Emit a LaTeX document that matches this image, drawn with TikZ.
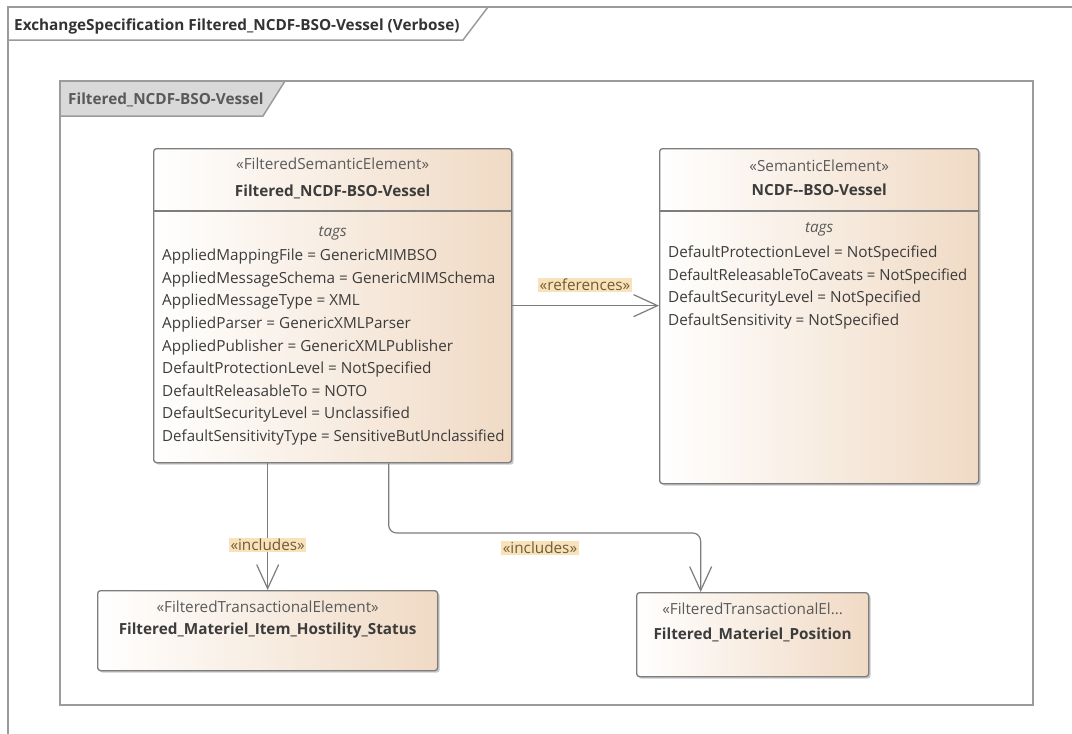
\documentclass[tikz,border=0pt]{standalone}
\usepackage{fontspec}
\setmainfont{Open Sans}
\usetikzlibrary{arrows.meta,shadows,calc}
\definecolor{peach}{RGB}{240,218,196}
\definecolor{framec}{RGB}{155,155,155}
\definecolor{boxc}{RGB}{125,125,125}
\definecolor{txt}{RGB}{60,60,60}
\definecolor{stc}{RGB}{90,90,90}
\definecolor{lblbg}{RGB}{248,226,186}
\definecolor{lbltxt}{RGB}{115,90,55}
\definecolor{tabc}{RGB}{217,217,217}
\newcommand{\fsz}{\fontsize{15.3}{18}\selectfont}
\begin{document}
\begin{tikzpicture}[x=1pt,y=-1pt,
  elem/.style={draw=boxc, line width=1.3pt, rounded corners=3pt, left color=white, right color=peach,
    drop shadow={opacity=0.35, shadow xshift=2pt, shadow yshift=-2pt, fill=black!60}, inner sep=0pt},
  stereo/.style={text=stc, font=\fsz, inner sep=0pt},
  ename/.style={text=txt, font=\bfseries\fsz, inner sep=0pt},
  tagsh/.style={text=stc, font=\itshape\fsz, inner sep=0pt},
  tagline/.style={text=txt, font=\fsz, inner sep=0pt, anchor=base west},
  lbl/.style={fill=lblbg, text=lbltxt, font=\fsz, inner sep=1.5pt},
  conn/.style={draw=boxc, line width=1.2pt, -{Straight Barb[length=24pt,width=22pt,line width=1.2pt]}},
  sep/.style={draw=boxc, line width=1.3pt}]
\useasboundingbox (0,0) rectangle (1072,734);
\fill[white] (0,0) rectangle (1072,734);

% outer frame
\draw[framec, line width=2pt] (1072,7) -- (8,7) -- (8,734);
\draw[framec, line width=1.5pt, fill=white] (8,7) -- (488,7) -- (463,40) -- (8,40) -- cycle;
\node[ename, anchor=base west, text=black!80] (outerT) at (14,30) {ExchangeSpecification Filtered\_NCDF-BSO-Vessel (Verbose)};

% inner frame
\draw[framec, line width=1.8pt] (60,81) rectangle (1033,705);
\draw[framec, line width=1.5pt, fill=tabc] (60,81) -- (285,81) -- (263,116) -- (60,116) -- cycle;
\node[ename, anchor=base west, text=black!65] (innerT) at (68,104) {Filtered\_NCDF-BSO-Vessel};

% left element
\node[elem, minimum width=358pt, minimum height=314pt, anchor=north west] (fse) at (153,148) {};
\draw[sep] (fse.west |- 0,211) -- (fse.east |- 0,211);
\node[stereo] (fseS) at (fse.north |- 0,164) {«FilteredSemanticElement»};
\node[ename] (fseN) at (fse.north |- 0,192) {Filtered\_NCDF-BSO-Vessel};
\node[tagsh] (fseTg) at (fse.north |- 0,233) {tags};
\foreach \t [count=\i] in {AppliedMappingFile = GenericMIMBSO,AppliedMessageSchema = GenericMIMSchema,AppliedMessageType = XML,AppliedParser = GenericXMLParser,AppliedPublisher = GenericXMLPublisher,DefaultProtectionLevel = NotSpecified,DefaultReleasableTo = NOTO,DefaultSecurityLevel = Unclassified}
  \node[tagline] (fseT\i) at (162,238+22.6*\i) {\t};
\node[tagline] (fseT9) at (162,441) {\scalebox{0.985}[1]{DefaultSensitivityType = SensitiveButUnclassified}};

% right element
\node[elem, minimum width=319pt, minimum height=335pt, anchor=north west] (se) at (659,148) {};
\draw[sep] (se.west |- 0,211) -- (se.east |- 0,211);
\node[stereo] (seS) at (se.north |- 0,166) {«SemanticElement»};
\node[ename] (seN) at (se.north |- 0,190) {NCDF-{}-BSO-Vessel};
\node[tagsh] (seTg) at (se.north |- 0,229) {tags};
\node[tagline] (seT1) at (668,257) {DefaultProtectionLevel = NotSpecified};
\node[tagline] (seT2) at (668,280) {\scalebox{0.97}[1]{DefaultReleasableToCaveats = NotSpecified}};
\node[tagline] (seT3) at (668,302) {DefaultSecurityLevel = NotSpecified};
\node[tagline] (seT4) at (668,325) {DefaultSensitivity = NotSpecified};

% bottom elements
\node[elem, minimum width=340pt, minimum height=80pt, anchor=north west] (hs) at (97,590) {};
\node[stereo] (hsS) at (hs.north |- 0,607) {«FilteredTransactionalElement»};
\node[ename] (hsN) at (hs.north |- 0,631) {Filtered\_Materiel\_Item\_Hostility\_Status};

\node[elem, minimum width=232pt, minimum height=84pt, anchor=north west] (mp) at (636,592) {};
\node[stereo] (mpS) at (mp.north |- 0,609) {«FilteredTransactionalEl...};
\node[ename] (mpN) at (mp.north |- 0,635) {Filtered\_Materiel\_Position};

% connectors
\draw[conn] (fse.east) -- (fse.east -| se.west);
\node[lbl] (refL) at (585,285) {«references»};

\draw[conn] (fse.south -| hs.north) -- (hs.north);
\node[lbl] (inc1) at (hs.north |- 0,545) {«includes»};

\draw[conn, rounded corners=8pt] ([xshift=56pt]fse.south) |- ([xshift=-52pt,yshift=59pt]mp.north) -- ([xshift=-52pt]mp.north);
\node[lbl] (inc2) at (540,548) {«includes»};
\end{tikzpicture}
\end{document}
